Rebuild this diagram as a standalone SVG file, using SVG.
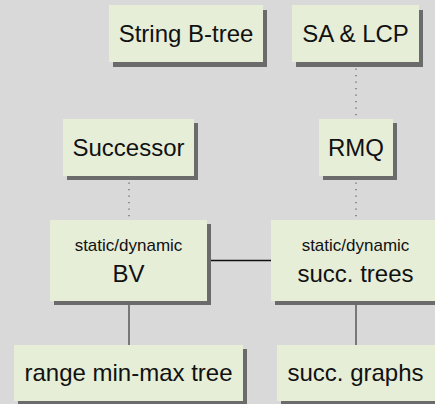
<svg xmlns="http://www.w3.org/2000/svg" width="435" height="404" viewBox="0 0 435 404">
<style>
.bg{fill:#d9d9d9}
.box{fill:#e6eed8}
.sh{fill:#6b6b6b}
.t{font-family:"Liberation Sans",Arial,sans-serif;font-size:24px;fill:#111;text-anchor:middle}
.s{font-family:"Liberation Sans",Arial,sans-serif;font-size:17px;fill:#111;text-anchor:middle}
.dot{stroke:#666;stroke-width:1.3;stroke-dasharray:1.3 5.2;fill:none}
.sol{stroke:#444;stroke-width:1.3;fill:none}
</style>
<rect class="bg" x="0" y="0" width="435" height="404"/>
<g id="connectors">
<line class="dot" x1="356" y1="62" x2="356" y2="119"/>
<line class="dot" x1="356" y1="176" x2="356" y2="220"/>
<line class="dot" x1="129" y1="176" x2="129" y2="220"/>
<line class="sol" x1="207" y1="260.5" x2="271" y2="260.5" style="stroke:#111"/>
<line class="sol" x1="129" y1="301" x2="129" y2="345"/>
<line class="sol" x1="356" y1="301" x2="356" y2="345"/>
</g>
<g id="stringbtree">
<rect class="sh" x="113" y="10" width="154" height="57"/>
<rect class="box" x="109" y="5" width="154" height="57"/>
<text class="t" x="186" y="42">String B-tree</text>
</g>
<g id="salcp">
<rect class="sh" x="296" y="10" width="127" height="57"/>
<rect class="box" x="292" y="5" width="127" height="57"/>
<text class="t" x="355.5" y="42">SA &amp; LCP</text>
</g>
<g id="successor">
<rect class="sh" x="67" y="123" width="131" height="57"/>
<rect class="box" x="63" y="119" width="131" height="57"/>
<text class="t" x="128.5" y="156">Successor</text>
</g>
<g id="rmq">
<rect class="sh" x="323" y="123" width="74" height="57"/>
<rect class="box" x="319" y="119" width="74" height="57"/>
<text class="t" x="356" y="156">RMQ</text>
</g>
<g id="bv">
<rect class="sh" x="54" y="224" width="157" height="81"/>
<rect class="box" x="50" y="220" width="157" height="81"/>
<text class="s" x="128.5" y="251">static/dynamic</text>
<text class="t" x="128.5" y="282">BV</text>
</g>
<g id="succtrees">
<rect class="sh" x="275" y="224" width="169" height="81"/>
<rect class="box" x="271" y="220" width="169" height="81"/>
<text class="s" x="355.5" y="251">static/dynamic</text>
<text class="t" x="355.5" y="282">succ. trees</text>
</g>
<g id="rangeminmax">
<rect class="sh" x="18" y="349" width="229" height="57"/>
<rect class="box" x="14" y="345" width="229" height="56"/>
<text class="t" x="128.5" y="381">range min-max tree</text>
</g>
<g id="succgraphs">
<rect class="sh" x="281" y="349" width="162" height="57"/>
<rect class="box" x="277" y="345" width="162" height="56"/>
<text class="t" x="355.5" y="381">succ. graphs</text>
</g>
</svg>
